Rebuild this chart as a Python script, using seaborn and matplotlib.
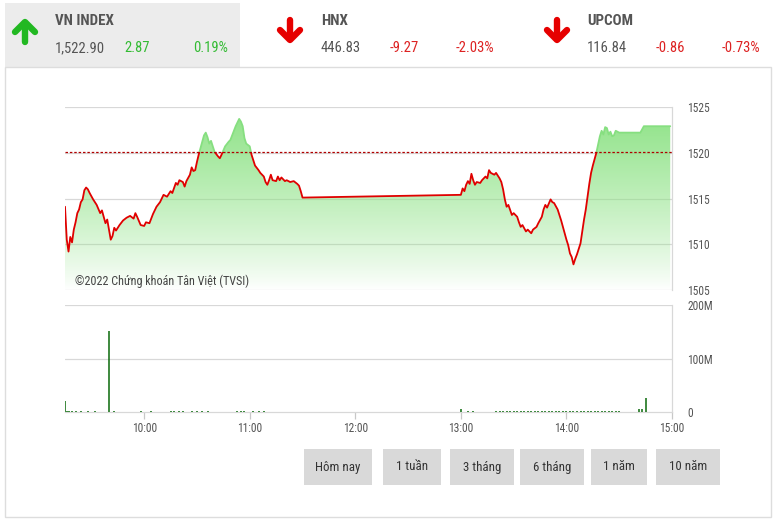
import numpy as np
import pandas as pd
import matplotlib
matplotlib.use("Agg")
import matplotlib.pyplot as plt
import seaborn as sns
from matplotlib import font_manager
from matplotlib.patches import Rectangle
from matplotlib.lines import Line2D

# ---------------- data ----------------
price_times = [
    "09:15", "09:16", "09:17", "09:18", "09:19", "09:20", "09:21", "09:22", "09:23", "09:24",
    "09:25", "09:26", "09:27", "09:28", "09:29", "09:31", "09:33", "09:35", "09:36", "09:38",
    "09:39", "09:41", "09:42", "09:43", "09:44", "09:46", "09:48", "09:50", "09:52", "09:54",
    "09:55", "09:56", "09:58", "10:00", "10:01", "10:03", "10:05", "10:07", "10:09", "10:11",
    "10:13", "10:15", "10:16", "10:18", "10:19", "10:20", "10:22", "10:23", "10:24", "10:26",
    "10:27", "10:28", "10:29", "10:30", "10:31", "10:33", "10:34", "10:35", "10:36", "10:37",
    "10:38", "10:40", "10:42", "10:43", "10:44", "10:46", "10:48", "10:49", "10:51", "10:52",
    "10:53", "10:54", "10:55", "10:56", "10:57", "10:58", "11:00", "11:01", "11:02", "11:03",
    "11:05", "11:06", "11:08", "11:09", "11:10", "11:11", "11:12", "11:13", "11:15", "11:16",
    "11:17", "11:18", "11:20", "11:21", "11:23", "11:25", "11:27", "11:28", "11:29", "11:30",
    "13:00", "13:01", "13:02", "13:03", "13:04", "13:05", "13:06", "13:07", "13:08", "13:09",
    "13:11", "13:12", "13:14", "13:15", "13:16", "13:17", "13:19", "13:20", "13:22", "13:23",
    "13:24", "13:25", "13:26", "13:27", "13:29", "13:30", "13:32", "13:33", "13:34", "13:35",
    "13:37", "13:38", "13:40", "13:41", "13:43", "13:44", "13:46", "13:47", "13:48", "13:49",
    "13:51", "13:52", "13:53", "13:55", "13:56", "13:57", "13:58", "14:00", "14:01", "14:02",
    "14:03", "14:04", "14:05", "14:06", "14:07", "14:08", "14:09", "14:10", "14:11", "14:12",
    "14:13", "14:14", "14:15", "14:17", "14:18", "14:19", "14:20", "14:21", "14:22", "14:23",
    "14:24", "14:25", "14:26", "14:27", "14:28", "14:29", "14:30", "14:42", "14:44", "14:59"]
price_values = [
    1514.1, 1510.5, 1509.2, 1510.8, 1510.2, 1511.6, 1512.4, 1513.4, 1513.8, 1514.6,
    1514.9, 1515.9, 1516.2, 1516.0, 1515.6, 1514.9, 1514.3, 1513.4, 1513.7, 1512.3,
    1512.7, 1510.5, 1510.9, 1511.8, 1511.5, 1512.1, 1512.6, 1512.9, 1513.1, 1512.8,
    1513.4, 1513.0, 1512.1, 1512.0, 1512.4, 1512.3, 1513.3, 1514.1, 1514.6, 1515.4,
    1515.2, 1515.8, 1515.6, 1516.7, 1516.5, 1517.0, 1516.8, 1516.3, 1516.9, 1517.6,
    1518.4, 1518.0, 1518.1, 1519.0, 1519.8, 1521.2, 1521.9, 1522.2, 1521.7, 1521.0,
    1521.3, 1520.1, 1519.6, 1519.4, 1519.8, 1520.7, 1521.2, 1521.4, 1522.4, 1522.9,
    1523.3, 1523.7, 1523.4, 1522.9, 1521.6, 1521.0, 1520.7, 1519.8, 1519.2, 1518.6,
    1518.1, 1517.8, 1517.4, 1516.8, 1516.5, 1517.0, 1517.6, 1517.0, 1516.9, 1517.4,
    1517.0, 1517.3, 1516.9, 1517.0, 1516.8, 1516.9, 1516.6, 1516.4, 1515.8, 1515.1,
    1515.4, 1516.1, 1515.8, 1516.5, 1516.9, 1516.6, 1517.7, 1517.0, 1516.5, 1516.8,
    1516.7, 1517.0, 1517.4, 1517.2, 1518.1, 1517.8, 1517.6, 1517.8, 1517.2, 1516.8,
    1516.0, 1514.9, 1514.1, 1514.3, 1513.2, 1513.4, 1513.0, 1512.4, 1511.9, 1512.1,
    1511.4, 1511.6, 1511.2, 1511.6, 1511.9, 1512.3, 1513.0, 1513.8, 1514.3, 1514.0,
    1514.9, 1514.6, 1514.5, 1513.8, 1513.2, 1512.6, 1511.9, 1510.5, 1509.9, 1509.0,
    1508.6, 1507.8, 1508.4, 1508.9, 1509.5, 1510.1, 1511.4, 1512.7, 1513.8, 1515.2,
    1516.6, 1517.8, 1518.6, 1520.0, 1520.9, 1521.8, 1522.4, 1522.0, 1522.8, 1522.7,
    1522.0, 1522.3, 1521.8, 1521.9, 1522.4, 1522.3, 1522.2, 1522.2, 1522.9, 1522.9]
reference_price = 1520.03

vol_times = ["09:15", "09:16", "09:17", "09:19", "09:21", "09:24", "09:28", "09:32", "09:40", "09:43",
             "09:58", "10:04", "10:15", "10:17", "10:20", "10:22", "10:27", "10:30", "10:33", "10:36",
             "10:53", "10:55", "10:57", "11:02", "11:05", "11:08",
             "13:00", "13:04", "13:07", "13:20", "13:22", "13:24", "13:26", "13:28", "13:30", "13:32",
             "13:34", "13:36", "13:38", "13:40", "13:42", "13:44", "13:46", "13:48", "13:50", "13:52",
             "13:54", "13:56", "13:58", "14:00", "14:02", "14:04", "14:06", "14:08", "14:10", "14:12",
             "14:14", "14:16", "14:18", "14:20", "14:22", "14:24", "14:26", "14:28", "14:30",
             "14:41", "14:43", "14:45"]
vol_values_m = [21, 2, 1.5, 1.5, 1.5, 1, 1, 1, 151, 1,
                1, 1.5, 1, 1, 1.5, 1, 1, 1.5, 1, 1.5,
                1.5, 1, 1, 1, 1.5, 1,
                5, 1, 1, 1.5, 1.5, 2, 1.5, 1, 1.5, 1,
                1.5, 1, 1.5, 1, 1.5, 1, 1, 1.5, 1, 1.5,
                1, 1.5, 1, 2, 1.5, 1, 1.5, 1, 1, 1.5,
                1, 1.5, 1, 1, 1.5, 1, 1, 1.5, 1,
                5, 5, 27]

hour_ticks = ["10:00", "11:00", "12:00", "13:00", "14:00", "15:00"]
price_ticks = [1505, 1510, 1515, 1520, 1525]
vol_ticks_m = [0, 100, 200]
vol_tick_labels = ["0", "100M", "200M"]

header = [
    ("VN INDEX", "1,522.90", "2.87", "0.19%", "up"),
    ("HNX", "446.83", "-9.27", "-2.03%", "down"),
    ("UPCOM", "116.84", "-0.86", "-0.73%", "down"),
]
buttons = ["Hôm nay", "1 tuần", "3 tháng", "6 tháng", "1 năm", "10 năm"]
copyright_text = "©2022 Chứng khoán Tân Việt (TVSI)"

# ---------------- style ----------------
sns.set_theme(style="white")
names = {f.name for f in font_manager.fontManager.ttflist}
cond = next((n for n in ["Roboto Condensed", "Liberation Sans Narrow", "Roboto"] if n in names), "DejaVu Sans")
plt.rcParams["font.family"] = [cond, "DejaVu Sans"]

W, H = 777, 523
fig = plt.figure(figsize=(W / 100, H / 100), dpi=100)
fig.patch.set_facecolor("white")


def fx(x):
    return x / W


def fy(y):
    return 1 - y / H


def to_min(s):
    h, m = s.split(":")
    return int(h) * 60 + int(m)


t_price = np.array([to_min(s) for s in price_times], dtype=float)
p = np.array(price_values)
t_vol = np.array([to_min(s) for s in vol_times], dtype=float)
v = np.array(vol_values_m)
XMIN, XMAX = to_min("09:15"), to_min("15:00")

GREY_TXT = "#555555"
GRID = "#d8d8d8"
RED = "#e00000"
GREEN_LINE = "#86df80"

# header tab + frame
fig.add_artist(Rectangle((fx(5), fy(67)), fx(235), 64 / H, transform=fig.transFigure,
                         facecolor="#ececec", edgecolor="none", zorder=0))
fig.add_artist(Rectangle((fx(5), fy(517)), fx(766), 450 / H, transform=fig.transFigure,
                         facecolor="none", edgecolor="#dddddd", lw=1, zorder=0))

# ---------------- price panel ----------------
ax = fig.add_axes([fx(65), fy(290), fx(607), 183 / H])
df = pd.DataFrame({"t": t_price, "price": p})

fill = ax.fill_between(df["t"], df["price"], 1505, facecolor="none", edgecolor="none")
grad = np.zeros((256, 1, 4))
top_rgb = np.array([0.55, 0.89, 0.52])
grad[:, 0, :3] = top_rgb
grad[:, 0, 3] = np.linspace(0.0, 1.0, 256) ** 0.85
im = ax.imshow(grad, extent=[XMIN, XMAX, 1505, 1525], aspect="auto", origin="lower", zorder=1)
im.set_clip_path(fill.get_paths()[0], transform=ax.transData)

sns.lineplot(data=df, x="t", y="price", ax=ax, color=RED, lw=1.3, estimator=None, zorder=3)
red_line = ax.lines[-1]
sns.lineplot(data=df, x="t", y="price", ax=ax, color=GREEN_LINE, lw=1.3, estimator=None, zorder=3)
green_line = ax.lines[-1]
clip_low = Rectangle((XMIN, 1500), XMAX - XMIN, reference_price - 1500, transform=ax.transData)
clip_high = Rectangle((XMIN, reference_price), XMAX - XMIN, 30, transform=ax.transData)
red_line.set_clip_path(clip_low)
green_line.set_clip_path(clip_high)

ax.axhline(reference_price, color="#b00000", lw=0.9, ls=(0, (2, 1.5)), zorder=4)
for yv in price_ticks:
    ax.axhline(yv, color=GRID, lw=0.9, zorder=0.5)
ax.set_xlim(XMIN, XMAX)
ax.set_ylim(1505, 1525)
ax.set_xticks([])
ax.set_yticks(price_ticks)
ax.yaxis.tick_right()
ax.tick_params(axis="y", length=0, pad=11, labelsize=8.3, labelcolor=GREY_TXT)
ax.set_xlabel("")
ax.set_ylabel("")
for s in ["top", "left", "bottom"]:
    ax.spines[s].set_visible(False)
ax.spines["right"].set_color(GRID)
ax.spines["right"].set_linewidth(0.9)
ax.text(0.0165, 0.012, copyright_text, transform=ax.transAxes, fontsize=8.7, color="#444444",
        ha="left", va="bottom", zorder=5)

# ---------------- volume panel ----------------
axv = fig.add_axes([fx(65), fy(412), fx(607), 107 / H])
axv.vlines(t_vol, 0, v, color="#0a6a0a", lw=1.1, zorder=3)
for yv in vol_ticks_m[1:]:
    axv.axhline(yv, color=GRID, lw=0.9, zorder=0.5)
axv.set_xlim(XMIN, XMAX)
axv.set_ylim(0, 200)
axv.set_yticks(vol_ticks_m)
axv.set_yticklabels(vol_tick_labels)
axv.yaxis.tick_right()
axv.tick_params(axis="y", length=0, pad=11, labelsize=8.3, labelcolor=GREY_TXT)
axv.set_xticks([to_min(s) for s in hour_ticks])
axv.set_xticklabels(hour_ticks)
axv.tick_params(axis="x", length=5, width=0.9, color="#c8c8c8", direction="out", pad=2,
                labelsize=8.3, labelcolor=GREY_TXT, bottom=True)
for s in ["top", "left"]:
    axv.spines[s].set_visible(False)
for s in ["right", "bottom"]:
    axv.spines[s].set_color(GRID)
    axv.spines[s].set_linewidth(0.9)

# ---------------- header ----------------
col_x = [55, 321, 587]
arrow_x = [25, 290, 557]
for (name, val, chg, pct, d), cx, axx in zip(header, col_x, arrow_x):
    c = "#33bb33" if d == "up" else "#dd2222"
    fig.text(fx(cx), fy(21), name, fontsize=10.8, fontweight="bold", color=GREY_TXT, va="center", ha="left")
    fig.text(fx(cx), fy(48), val, fontsize=10.5, color=GREY_TXT, va="center", ha="left")
    fig.text(fx(cx + 69), fy(48), chg, fontsize=10.5, color=c, va="center", ha="left")
    fig.text(fx(cx + 173), fy(48), pct, fontsize=10.5, color=c, va="center", ha="right")
    if d == "up":
        pts_stem = [(axx, 42), (axx, 23)]
        pts_head = [(axx - 10, 32), (axx, 22), (axx + 10, 32)]
        col = "#22b822"
    else:
        pts_stem = [(axx, 20), (axx, 39)]
        pts_head = [(axx - 10, 30), (axx, 40), (axx + 10, 30)]
        col = "#e60000"
    for pts in (pts_stem, pts_head):
        fig.add_artist(Line2D([fx(a) for a, b in pts], [fy(b) for a, b in pts], transform=fig.transFigure,
                              color=col, lw=4.6, solid_capstyle="round", solid_joinstyle="round"))

# ---------------- buttons ----------------
btn_x = [(304, 372), (383, 441), (450, 514), (520, 584), (591, 647), (656, 720)]
for lab, (x0, x1) in zip(buttons, btn_x):
    fig.add_artist(Rectangle((fx(x0), fy(485)), fx(x1 - x0), 36 / H, transform=fig.transFigure,
                             facecolor="#d9d9d9", edgecolor="none"))
    fig.text(fx((x0 + x1) / 2), fy(467), lab, fontsize=9.3, color="#333333", ha="center", va="center")

fig.savefig("out.png", dpi=100)
